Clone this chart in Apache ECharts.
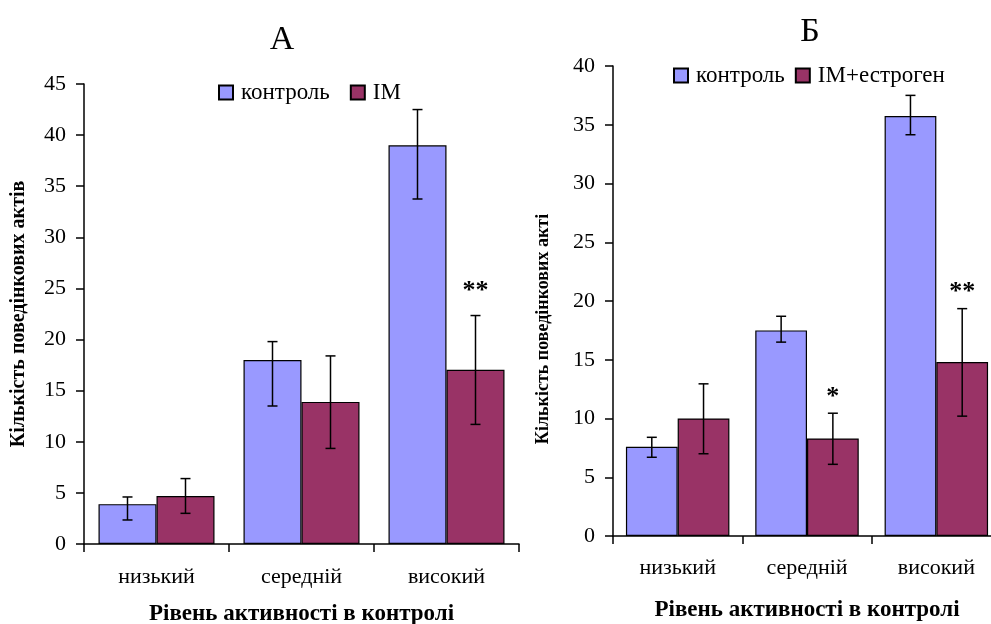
<!DOCTYPE html>
<html><head><meta charset="utf-8">
<script src="https://cdn.jsdelivr.net/npm/echarts@6/dist/echarts.min.js"></script>
<style>html,body{margin:0;padding:0;background:#fff}#c{width:991px;height:624px}</style>
</head><body><div id="c"></div>
<script>
const categories = ['низький', 'середній', 'високий'];
// Chart A
const ctrlA = [3.9, 18.0, 39.0];
const ctrlA_lo = [2.35, 13.5, 33.75];
const ctrlA_hi = [4.6, 19.8, 42.5];
const imA = [4.7, 13.9, 17.05];
const imA_lo = [3.0, 9.35, 11.7];
const imA_hi = [6.4, 18.4, 22.35];
const sigA = ['', '', '**'];
// Chart B
const ctrlB = [7.6, 17.5, 35.75];
const ctrlB_lo = [6.7, 16.5, 34.15];
const ctrlB_hi = [8.4, 18.7, 37.5];
const imB = [10.0, 8.3, 14.8];
const imB_lo = [7.0, 6.1, 10.2];
const imB_hi = [12.95, 10.45, 19.35];
const sigB = ['', '*', '**'];

const FONT = 'Liberation Serif';
const C1 = '#9999FF', C2 = '#993366';

function errData(lo, hi, sig) {
  return categories.map((c, i) => [i, lo[i], hi[i], sig ? sig[i] : '']);
}
function errSeries(idx, lo, hi, sig, side, sigGap) {
  return {
    type: 'custom', xAxisIndex: idx, yAxisIndex: idx, z: 10, silent: true, clip: false,
    data: errData(lo, hi, sig),
    renderItem: function (params, api) {
      const cw = api.size([1, 0])[0];
      const off = side * cw * 0.2;
      const pLo = api.coord([api.value(0), api.value(1)]);
      const pHi = api.coord([api.value(0), api.value(2)]);
      const x = pLo[0] + off;
      const cap = 5;
      const st = { stroke: '#000', lineWidth: 1.5 };
      const ch = [
        { type: 'line', shape: { x1: x, y1: pLo[1], x2: x, y2: pHi[1] }, style: st },
        { type: 'line', shape: { x1: x - cap, y1: pLo[1], x2: x + cap, y2: pLo[1] }, style: st },
        { type: 'line', shape: { x1: x - cap, y1: pHi[1], x2: x + cap, y2: pHi[1] }, style: st }
      ];
      const s = api.value(3);
      if (s) {
        ch.push({ type: 'text', style: { text: s, x: x, y: pHi[1] - sigGap, align: 'center', verticalAlign: 'middle',
          font: 'bold 26px "' + FONT + '"', fill: '#000' } });
      }
      return { type: 'group', children: ch };
    }
  };
}
function barSeries(name, idx, data, color) {
  return {
    name: name, type: 'bar', xAxisIndex: idx, yAxisIndex: idx, data: data,
    barCategoryGap: '20%', barGap: '0%',
    itemStyle: { color: color, borderColor: '#000', borderWidth: 1.2 }
  };
}
const axisLine = { show: true, lineStyle: { color: '#000', width: 1.5 } };
function xAxis(idx, nameGap, labelMargin) {
  return {
    type: 'category', gridIndex: idx, data: categories,
    axisLine: axisLine,
    axisTick: { show: true, length: 8, alignWithLabel: false, lineStyle: { color: '#000', width: 1.5 } },
    axisLabel: { color: '#000', fontFamily: FONT, fontSize: 22, margin: labelMargin },
    name: 'Рівень активності в контролі', nameLocation: 'middle', nameGap: nameGap,
    nameTextStyle: { color: '#000', fontFamily: FONT, fontSize: 23, fontWeight: 'bold' }
  };
}
function yAxis(idx, max, name, nameGap, nameSize) {
  return {
    type: 'value', gridIndex: idx, min: 0, max: max, interval: 5,
    axisLine: axisLine,
    axisTick: { show: true, length: 8, lineStyle: { color: '#000', width: 1.5 } },
    splitLine: { show: false },
    axisLabel: { color: '#000', fontFamily: FONT, fontSize: 22, margin: 18 },
    name: name, nameLocation: 'middle', nameGap: nameGap, nameRotate: 90,
    nameTextStyle: { color: '#000', fontFamily: FONT, fontSize: nameSize, fontWeight: 'bold' }
  };
}

const chart = echarts.init(document.getElementById('c'), null, { renderer: 'canvas' });
chart.setOption({
  backgroundColor: '#fff',
  animation: false,
  title: [
    { text: 'А', left: 277, top: 35, textAlign: 'center', textVerticalAlign: 'middle',
      textStyle: { fontFamily: FONT, fontSize: 34, fontWeight: 'normal', color: '#000' } },
    { text: 'Б', left: 805, top: 27, textAlign: 'center', textVerticalAlign: 'middle',
      textStyle: { fontFamily: FONT, fontSize: 34, fontWeight: 'normal', color: '#000' } }
  ],
  legend: [
    { data: ['контроль', 'IM'], left: 213, top: 76, icon: 'rect', itemWidth: 14, itemHeight: 14, itemGap: 20,
      textStyle: { fontFamily: FONT, fontSize: 23, color: '#000', padding: [0, 0, 0, 3] } },
    { data: ['контроль', 'IM+естроген'], left: 668, top: 59, icon: 'rect', itemWidth: 14, itemHeight: 14, itemGap: 10,
      textStyle: { fontFamily: FONT, fontSize: 23, color: '#000', padding: [0, 0, 0, 3] } }
  ],
  grid: [
    { left: 84, right: 472, top: 84, bottom: 80, outerBoundsMode: 'none', containLabel: false },
    { left: 613, right: -10, top: 66, bottom: 88, outerBoundsMode: 'none', containLabel: false }
  ],
  xAxis: [xAxis(0, 59, 22), xAxis(1, 63, 21)],
  yAxis: [yAxis(0, 45, 'Кількість поведінкових актів', 55, 20), yAxis(1, 40, '', 70, 18)],
  graphic: [
    { type: 'text', x: 543, y: 329, rotation: Math.PI / 2,
      style: { text: 'Кількість поведінкових акті', align: 'center', verticalAlign: 'middle',
        font: 'bold 18px "' + FONT + '"', fill: '#000' } }
  ],
  series: [
    barSeries('контроль', 0, ctrlA, C1),
    barSeries('IM', 0, imA, C2),
    barSeries('контроль', 1, ctrlB, C1),
    barSeries('IM+естроген', 1, imB, C2),
    errSeries(0, ctrlA_lo, ctrlA_hi, null, -1, 0),
    errSeries(0, imA_lo, imA_hi, sigA, 1, 24),
    errSeries(1, ctrlB_lo, ctrlB_hi, null, -1, 0),
    errSeries(1, imB_lo, imB_hi, sigB, 1, 16)
  ]
});
</script></body></html>
